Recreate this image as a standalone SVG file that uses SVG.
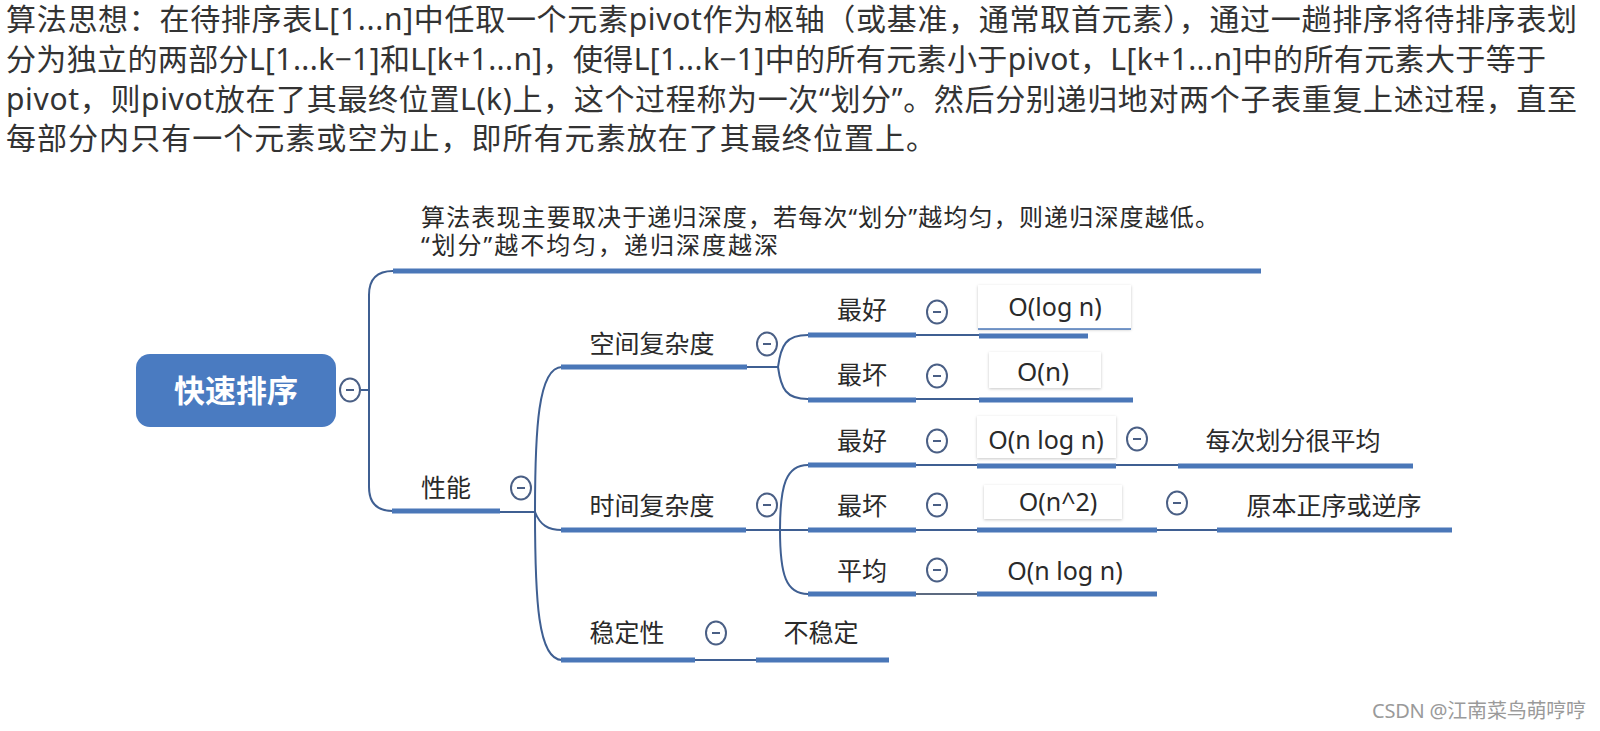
<svg xmlns="http://www.w3.org/2000/svg" width="1600" height="731" viewBox="0 0 1600 731">
<defs>
<style>
text{font-family:"Noto Sans","Noto Sans CJK SC",sans-serif;fill:#2a2a2a}
.para{font-size:30px;fill:#333}
.lbl{font-size:25px;text-anchor:middle}
.note{font-size:24px}
.root{font-size:31px;fill:#fff;text-anchor:middle;font-weight:bold}
.bar{stroke:#4a77b8;stroke-width:5;fill:none}
.thin{stroke:#3f5f92;stroke-width:2;fill:none}
.col{fill:#fff;stroke:#4a5f85;stroke-width:2}
.dash{stroke:#4a5f85;stroke-width:2}
.box{fill:#fff;filter:url(#sh)}
.wm{font-size:20px;fill:#9a9a9a}
</style>
<filter id="sh" x="-10%" y="-20%" width="120%" height="140%">
<feDropShadow dx="0" dy="1" stdDeviation="1.5" flood-color="#000" flood-opacity="0.22"/>
</filter>
</defs>
<rect width="1600" height="731" fill="#fff"/>

<g id="description">
<text class="para" x="6" y="29.5" textLength="1571" lengthAdjust="spacing">算法思想：在待排序表L[1...n]中任取一个元素pivot作为枢轴（或基准，通常取首元素），通过一趟排序将待排序表划</text>
<text class="para" x="6" y="69.5" textLength="1540" lengthAdjust="spacing">分为独立的两部分L[1...k−1]和L[k+1...n]，使得L[1...k−1]中的所有元素小于pivot，L[k+1...n]中的所有元素大于等于</text>
<text class="para" x="6" y="109.5" textLength="1571" lengthAdjust="spacing">pivot，则pivot放在了其最终位置L(k)上，这个过程称为一次“划分”。然后分别递归地对两个子表重复上述过程，直至</text>
<text class="para" x="6" y="149" textLength="930" lengthAdjust="spacing">每部分内只有一个元素或空为止，即所有元素放在了其最终位置上。</text>
</g>

<g id="connectors">
<path class="thin" d="M361 390 H369"/>
<path class="thin" d="M393 271 Q369 271 369 295 V487 Q369 511 393 511"/>
<path class="thin" d="M500 512 H535"/>
<path class="thin" d="M535 512 C535 430 538 367 562 367"/>
<path class="thin" d="M535 512 C540 525 548 530 562 530"/>
<path class="thin" d="M535 512 C535 600 538 660 562 660"/>
<path class="thin" d="M747 367 H778"/>
<path class="thin" d="M808 335 C786 335 781 345 778 367 C781 389 786 399 808 399"/>
<path class="thin" d="M746 530 H808"/>
<path class="thin" d="M780 530 C780 485 786 465 808 465"/>
<path class="thin" d="M780 530 C780 575 786 594 808 594"/>
<path class="thin" d="M916 335 H979"/>
<path class="thin" d="M916 399 H979"/>
<path class="thin" d="M916 465 H977"/>
<path class="thin" d="M1116 465 H1178"/>
<path class="thin" d="M916 530 H977"/>
<path class="thin" d="M1157 530 H1217"/>
<path class="thin" d="M916 594 H977" style="stroke:#5c6a80"/>
<path class="thin" d="M695 660 H756"/>
</g>

<g id="root">
<rect x="136" y="354" width="200" height="73" rx="14" fill="#4a7bc1"/>
<text class="root" x="236" y="402">快速排序</text>
<ellipse class="col" cx="350" cy="390" rx="10" ry="11.5"/><path class="dash" d="M346 390 H354"/>
</g>

<g id="note">
<path class="bar" d="M393 271 H1261"/>
<text class="note"><tspan x="421" y="226" textLength="798" lengthAdjust="spacing">算法表现主要取决于递归深度，若每次“划分”越均匀，则递归深度越低。</tspan><tspan x="421" y="254" textLength="357" lengthAdjust="spacing">“划分”越不均匀，递归深度越深</tspan></text>
</g>

<g id="performance">
<path class="bar" d="M392 511 H500"/>
<text class="lbl" x="446" y="497">性能</text>
<ellipse class="col" cx="521" cy="488" rx="10" ry="11.5"/><path class="dash" d="M517 488 H525"/>
</g>

<g id="space">
<path class="bar" d="M561 367 H747"/>
<text class="lbl" x="652" y="353">空间复杂度</text>
<ellipse class="col" cx="767" cy="344" rx="10" ry="11.5"/><path class="dash" d="M763 344 H771"/>
</g>

<g id="space-best">
<path class="bar" d="M808 335 H916"/>
<text class="lbl" x="862" y="319">最好</text>
<ellipse class="col" cx="937" cy="312" rx="10" ry="11.5"/><path class="dash" d="M933 312 H941"/>
</g>
<g id="space-best-val">
<rect class="box" x="978" y="285" width="153" height="44"/>
<path d="M978 329 H1131" stroke="#4a77b8" stroke-width="1.5"/>
<text class="lbl" x="1055" y="316">O(log n)</text>
<path class="bar" d="M979 336 H1088"/>
</g>

<g id="space-worst">
<path class="bar" d="M808 400 H916"/>
<text class="lbl" x="862" y="384">最坏</text>
<ellipse class="col" cx="937" cy="376" rx="10" ry="11.5"/><path class="dash" d="M933 376 H941"/>
</g>
<g id="space-worst-val">
<rect class="box" x="989" y="352" width="112" height="36"/>
<text class="lbl" x="1043" y="381" style="font-size:26px">O(n)</text>
<path class="bar" d="M979 400 H1133"/>
</g>

<g id="time">
<path class="bar" d="M561 530 H746"/>
<text class="lbl" x="652" y="515">时间复杂度</text>
<ellipse class="col" cx="767" cy="505" rx="10" ry="11.5"/><path class="dash" d="M763 505 H771"/>
</g>

<g id="time-best">
<path class="bar" d="M808 465 H916"/>
<text class="lbl" x="862" y="450">最好</text>
<ellipse class="col" cx="937" cy="441" rx="10" ry="11.5"/><path class="dash" d="M933 441 H941"/>
</g>
<g id="time-best-val">
<rect class="box" x="977" y="416" width="139" height="42"/>
<text class="lbl" x="1046" y="449">O(n log n)</text>
<path class="bar" d="M977 466 H1116"/>
<ellipse class="col" cx="1137" cy="439" rx="10" ry="11.5"/><path class="dash" d="M1133 439 H1141"/>
</g>
<g id="time-best-note">
<path class="bar" d="M1178 466 H1413"/>
<text class="lbl" x="1293" y="450">每次划分很平均</text>
</g>

<g id="time-worst">
<path class="bar" d="M808 530 H916"/>
<text class="lbl" x="862" y="515">最坏</text>
<ellipse class="col" cx="937" cy="505" rx="10" ry="11.5"/><path class="dash" d="M933 505 H941"/>
</g>
<g id="time-worst-val">
<rect class="box" x="984" y="485" width="138" height="34"/>
<text class="lbl" x="1058" y="511">O(n^2)</text>
<path class="bar" d="M977 530 H1157"/>
<ellipse class="col" cx="1177" cy="503" rx="10" ry="11.5"/><path class="dash" d="M1173 503 H1181"/>
</g>
<g id="time-worst-note">
<path class="bar" d="M1217 530 H1452"/>
<text class="lbl" x="1334" y="515">原本正序或逆序</text>
</g>

<g id="time-avg">
<path class="bar" d="M808 594 H916"/>
<text class="lbl" x="862" y="580">平均</text>
<ellipse class="col" cx="937" cy="570" rx="10" ry="11.5"/><path class="dash" d="M933 570 H941"/>
</g>
<g id="time-avg-val">
<path class="bar" d="M977 594 H1157"/>
<text class="lbl" x="1065" y="580">O(n log n)</text>
</g>

<g id="stability">
<path class="bar" d="M561 660 H695"/>
<text class="lbl" x="627" y="642">稳定性</text>
<ellipse class="col" cx="716" cy="633" rx="10" ry="11.5"/><path class="dash" d="M712 633 H720"/>
</g>
<g id="stability-val">
<path class="bar" d="M756 660 H889"/>
<text class="lbl" x="821" y="642">不稳定</text>
</g>

<text class="wm" x="1372" y="718" textLength="214" lengthAdjust="spacing">CSDN @江南菜鸟萌哼哼</text>
</svg>
